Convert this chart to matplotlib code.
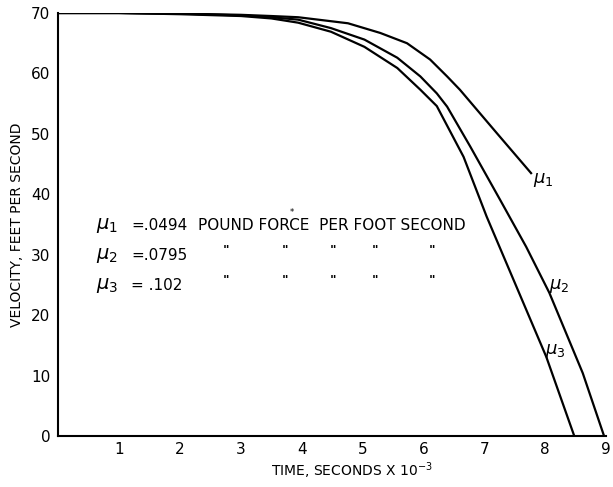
import matplotlib
matplotlib.use("Agg")
import matplotlib.pyplot as plt

# velocity vs time for three friction coefficients
t_mu1 = [0, 1, 2, 3, 3.5, 3.94, 4.76, 5.29, 5.73, 6.11, 6.39, 6.6, 7.2, 7.77]
v_mu1 = [70, 70, 69.9, 69.7, 69.5, 69.3, 68.3, 66.7, 65.0, 62.3, 59.5, 57.3, 50.2, 43.5]

t_mu2 = [0, 1, 2, 3, 3.5, 3.94, 4.48, 5.03, 5.57, 5.95, 6.22, 6.39, 6.77, 7.26, 7.69, 8.07, 8.62, 8.97]
v_mu2 = [70, 70, 69.9, 69.6, 69.3, 68.9, 67.5, 65.6, 62.6, 59.5, 56.7, 54.5, 47.9, 39.1, 31.3, 23.7, 10.4, 0]

t_mu3 = [0, 1, 2, 3, 3.5, 3.94, 4.48, 5.03, 5.57, 5.95, 6.22, 6.66, 7.04, 7.53, 8.02, 8.48]
v_mu3 = [70, 70, 69.8, 69.5, 69.1, 68.4, 66.9, 64.4, 60.9, 57.3, 54.6, 46.2, 36.3, 24.7, 13.1, 0]

x_ticks = [1, 2, 3, 4, 5, 6, 7, 8, 9]
y_ticks = [0, 10, 20, 30, 40, 50, 60, 70]

mu_names = [r"$\mu_{\mathdefault{1}}$", r"$\mu_{\mathdefault{2}}$", r"$\mu_{\mathdefault{3}}$"]
mu_values = ["=.0494", "=.0795", "= .102"]

fig = plt.figure(figsize=(6.13, 4.87), dpi=100)
ax = fig.add_axes([0.0954, 0.1047, 0.893, 0.8686])

for t, v in [(t_mu1, v_mu1), (t_mu2, v_mu2), (t_mu3, v_mu3)]:
    ax.plot(t, v, color="black", linewidth=1.6, solid_joinstyle="round")

ax.set_xlim(0, 9)
ax.set_ylim(0, 70)
ax.set_xticks(x_ticks)
ax.set_yticks(y_ticks)
ax.tick_params(length=0, labelsize=11)
ax.tick_params(axis="x", pad=4)
ax.tick_params(axis="y", pad=6)
ax.spines["top"].set_visible(False)
ax.spines["right"].set_visible(False)
ax.spines["left"].set_linewidth(1.5)
ax.spines["bottom"].set_linewidth(1.5)

ax.set_xlabel(r"TIME, SECONDS X 10$^{\mathdefault{-3}}$", fontsize=10)
ax.xaxis.set_label_coords(0.535, -0.058)
ax.set_ylabel("VELOCITY, FEET PER SECOND", fontsize=10, labelpad=5)

# curve labels
ax.text(7.8, 42.3, mu_names[0], fontsize=13, va="center")
ax.text(8.07, 24.8, mu_names[1], fontsize=13, va="center")
ax.text(8.0, 14.0, mu_names[2], fontsize=13, va="center")

# legend-like text block
rows_y = [34.8, 29.8, 24.9]
for name, val, y in zip(mu_names, mu_values, rows_y):
    ax.text(0.62, y, name, fontsize=14, va="center")
    ax.text(1.2, y, val, fontsize=11, va="center")
ax.text(2.3, rows_y[0], "POUND FORCE  PER FOOT SECOND", fontsize=11, va="center")
ax.text(3.83, 37.0, "*", fontsize=6, va="center", ha="center")
ditto_x = [2.75, 3.73, 4.51, 5.21, 6.14]
for y in rows_y[1:]:
    for dx in ditto_x:
        ax.text(dx, y + 0.9, '"', fontsize=9, fontweight="bold", va="center", ha="center")

fig.savefig("out.png", dpi=100)
